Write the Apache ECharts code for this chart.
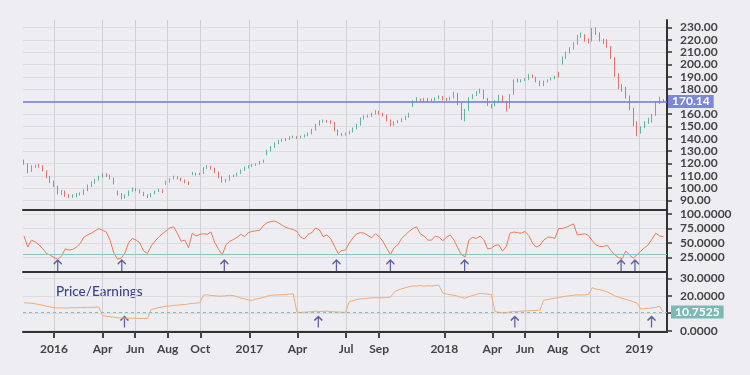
<!DOCTYPE html>
<html>
<head>
<meta charset="utf-8">
<script src="https://cdn.jsdelivr.net/npm/echarts@6/dist/echarts.min.js"></script>
<style>html,body{margin:0;padding:0;background:#eeeef2;}#c{width:750px;height:375px;}</style>
</head>
<body>
<div id="c"></div>
<script>
// ---- data (weekly samples) ----
const firstWeek = '2015-11-06';   // first weekly sample, then one every 7 days
const candles = [ // [open, close, low, high]
[122,120,119,123],[119,113,112,120],[114,117.5,113,118.5],[117,118,116.5,119],[118.5,118,116.5,119.5],
[118,114.5,113.5,118.5],[114,109,108,114.5],[109.5,105,104,110],[105,102,101,106],[101,96.5,95,102],
[96,97,94.5,98.5],[97.5,94,93,98],[94,93.5,92,95],[93,93.5,92,95],[93.5,95,92.5,96],
[95.5,95,94,96.5],[95,98,94.5,99],[98,102,97.5,103],[102,104.5,101,105.5],[104.5,106.5,103.5,107.5],
[106.5,109,106,110],[109,111,108.5,112],[111,110,109,112],[110,108,107,111],[108,104,103,108.5],
[97,95,94,98],[95,92.5,91,96],[92.5,94,91.5,95],[94,97.5,93.5,98],[97.5,99.5,97,100.5],
[99.5,98.5,97.5,100],[98.5,96.5,95.5,99],[96.5,94.5,93.5,97],[94.5,93,92,95],[93,95.5,92.5,96],
[95.5,97.5,95,98],[97.5,98.5,97,99.5],[98.5,97,96,99],[103,105,102.5,106],[105,107.5,104.5,108],
[107.5,109,107,110],[109,108,107,109.5],[108,106.5,105.5,108.5],[106.5,105,104,107],[105,103.5,102.5,105.5],
[111,112,110.5,113],[112,111,110,112.5],[111,111.5,110.5,112.5],[112,116,111.5,117],[116,117.5,115.5,118.5],
[117.5,116,115,118],[116,113,112,116.5],[113,109,108,113.5],[109,105.5,104.5,109.5],[105.5,106.5,104.5,107.5],
[106.5,109.5,106,110.5],[109.5,110,109,111],[110,112,109.5,112.5],[112,114.5,111.5,115],[114.5,116.7,114,117.5],
[116.7,117.5,116,118.5],[117.5,118.5,117,119.5],[118.5,119.5,118,120],[119.5,121,119,122],[121,122,120.5,123],
[127,130,126.5,131],[130,133,129.5,134],[133,136,132.5,137],[136,138,135.5,139],[138,139,137.5,140],
[139,139.5,138,140.5],[139.5,141,139,142],[141,141.5,140.5,142.5],[141.5,141,140,142],[141,141.5,140.5,142.5],
[141.5,142.5,141,143.5],[142.5,144,142,145],[144,147,143.5,148],[147,151,146.5,152],[151,154,150.5,155],
[154,154.3,153,155.5],[154.3,154,153,155],[154,153,152,155],[153,147,146,153.5],[147,143.5,142.5,147.5],
[143.5,143.3,142,144.5],[143.3,144,142.5,145],[144,145.8,143.5,146.5],[145.8,148,145,149],[148,151,147.5,152],
[151,156,150.5,157],[156,158,155.5,159],[158,158.3,157,159.5],[158.3,160,157.5,161],[160,162,159.5,163],
[162,160.5,159.5,162.5],[160.5,159,158,161],[159,155,154,159.5],[155,151,150,155.5],[151,153,150.5,154],
[153,154,152.5,155],[154,155.5,153.5,156.5],[155.5,157.5,155,158.5],[157.5,160,157,161],[166,170,165.5,171],
[170,172,169.5,173.5],[172,170.3,169.5,172.5],[170.3,172,169.5,173],[172,171,170,173],[171,171.5,170,172.5],
[171.5,172.6,170.5,173.5],[172.6,173.8,172,175],[173.8,172,171,174.5],[172,171.5,170.5,173],[171.5,173,171,174],
[173,176.5,172.5,178],[176.5,168.4,167,177],[168.4,159,155,169],[159,163,154,164],[163,172.5,162.5,173.5],
[172.5,175,172,176],[175,177.5,174.5,178.5],[177.5,179,176.5,180.5],[179,172.5,172,179.5],[172.5,167.5,166.5,173],
[167.5,166.5,164.5,168],[166.5,170,166,171],[170,174.5,169.5,175.5],[174.5,170,169,175],[170,163.5,162,170.5],
[165,175,164.5,176],[176,187,175.5,188],[187,186.5,185.5,188.5],[186.5,187,185.5,188],[187,188,186.5,189],
[188,191.5,187.5,192.5],[191.5,189.8,189,192],[189.8,186.5,185.5,190],[186.5,183.2,182.5,187],[183.2,186,182.5,187],
[186,187.4,185.5,188],[187.4,188.5,187,189.5],[188.5,190,188,191],[193.5,190.5,189.5,194],[201,205,200,206.5],
[205,209.5,204.5,210.5],[209.5,212.5,209,214],[212.5,216.5,212,218],[216.5,222.5,216,224],[222.5,224,221.5,226],
[224,219.5,218.5,224.5],[219.5,219,217,221],[219,227,218.5,229.5],[227,225.5,224,230],[225.5,219.5,218.5,226],
[219.5,218,216.5,221],[218,214.5,213.5,220.5],[214.5,205.5,204.5,215],[205.5,192,190,206],[192,182,180,193],
[182,179.5,178,184],[179.5,174,172.5,182],[174,164.5,163,175],[164.5,152,150,165],[152,145,142,154],
[145,149,144,150],[149,153,148.5,154],[153,156,152,157],[156,159,153,160],[159,169,158.5,170],
[169,171,168,174],[171,170.14,169.5,172]
];
const rsi = [
62,43,55,52,47,40,32,29,25,22,
27,40,38,39,43,49,60,64,67,71,
75,72,69,55,33,22,24,33,51,58,
55,50,36,32,45,53,60,66,71,76,
78,67,53,55,42,67,62,65,66,65,
69,51,40,29,47,53,56,60,65,61,
68,70,71,72,80,85,87,88,85,81,
77,75,73,70,60,57,65,68,76,73,
61,64,58,45,32,37,38,50,59,66,
68,67,63,59,66,61,53,41,30,42,
47,58,64,70,75,78,66,62,55,55,
62,60,54,60,64,55,42,30,26,55,
60,58,62,56,40,41,46,47,36,44,
67,69,68,67,70,63,50,43,46,55,
60,60,58,75,75,77,80,83,64,65,
66,63,54,47,44,44,46,37,30,25,
23,36,29,24,30,36,42,47,57,67,
62,61
];
const pe = [
16.0,15.8,15.7,15.4,15.0,14.6,14.0,13.6,13.2,13.0,
13.1,13.0,13.0,13.2,13.1,13.3,13.2,13.4,13.3,13.5,
13.6,8.6,8.3,8.0,7.7,7.4,7.3,7.2,7.2,7.1,
7.1,7.0,7.0,7.0,12.2,12.6,13.2,13.6,14.0,14.2,
14.5,14.6,14.9,15.0,15.3,15.6,15.8,16.0,20.4,20.5,
20.2,20.0,19.8,19.8,20.0,20.3,20.1,19.4,18.7,18.3,
17.6,17.4,18.2,18.5,19.0,19.8,20.2,20.4,20.5,20.6,
20.8,20.9,21.1,10.6,10.5,10.6,10.8,10.9,11.2,11.0,
11.1,11.2,11.0,10.8,10.7,10.6,10.5,16.6,17.2,17.8,
18.2,18.3,18.6,18.8,18.9,18.8,18.9,19.0,19.2,22.0,
23.2,24.0,24.6,25.2,25.6,25.6,25.8,25.5,25.7,25.6,
25.9,26.0,21.6,21.0,20.6,20.3,19.8,19.0,18.6,19.5,
20.2,20.8,21.3,21.2,21.0,20.6,10.9,10.6,10.2,10.3,
10.8,10.9,11.0,11.2,11.3,11.4,11.5,11.6,11.8,17.5,
17.8,18.2,18.6,19.0,19.4,19.8,20.0,20.3,20.5,20.4,
20.6,20.7,24.6,23.8,23.5,23.0,22.2,21.2,20.0,19.2,
18.5,17.9,17.3,16.6,15.8,12.4,12.6,12.8,13.0,13.4,
14.0,10.7525
];
const rsiThreshold = 30;
const rsiArrowDates = ['2016-01-08','2016-05-07','2016-11-15','2017-06-13','2017-09-22','2018-02-08','2018-11-28','2018-12-24'];
const peArrowDates = ['2016-05-12','2017-05-10','2018-05-13','2019-01-24'];
const xTickDates = ['2016-01-01','2016-04-01','2016-06-01','2016-08-01','2016-10-01','2017-01-01','2017-04-01','2017-07-01','2017-09-01','2018-01-01','2018-04-01','2018-06-01','2018-08-01','2018-10-01','2019-01-01'];
const xTickLabels = ['2016','Apr','Jun','Aug','Oct','2017','Apr','Jul','Sep','2018','Apr','Jun','Aug','Oct','2019'];
const priceTicks = [90,100,110,120,130,140,150,160,170,180,190,200,210,220,230];
const priceLabels = [90,100,110,120,130,140,150,160,180,190,200,210,220,230];
const rsiTicks = [25,50,75,100];
const peTicks = [0,10,20,30];
const peLabels = [0,20,30];
const xStart = '2015-11-04', xEnd = '2019-02-22';

// ---- helpers ----
function dayOf(s){const p=s.split('-').map(Number);return (Date.UTC(p[0],p[1]-1,p[2])-Date.UTC(2016,0,1))/86400000;}
const d0 = dayOf(firstWeek);
const days = candles.map((c,i)=>d0+7*i);
const candleData = candles.map((c,i)=>[days[i]].concat(c));
const rsiData = rsi.map((v,i)=>[days[i],v]);
const peData = pe.map((v,i)=>[days[i],v]);
const lastPrice = candles[candles.length-1][1];
const lastPe = pe[pe.length-1];
const xTickDays = xTickDates.map(dayOf);
const labelMap = {}; xTickDays.forEach((d,i)=>labelMap[d]=xTickLabels[i]);
const FONT = 'Lato';
const RSI_ARROW_Y = 11, PE_ARROW_Y = 5;
const arrowPath = 'path://M0,4 L4,0 L8,4 M4,0 L4,11';

const chart = echarts.init(document.getElementById('c'), null, {renderer:'canvas'});
const grids = [
  {left:23,right:83,top:20,height:190},
  {left:23,right:83,top:210,height:62},
  {left:23,right:83,top:272,height:60}
];
const xAxes = [0,1,2].map(i=>({
  type:'value', gridIndex:i, min:dayOf(xStart), max:dayOf(xEnd),
  axisLine:{show:true,onZero:false,lineStyle:{color:'#333',width:2}},
  axisTick:{show:i===2,customValues:xTickDays,length:6,lineStyle:{color:'#444',width:2}},
  axisLabel:{show:i===2,customValues:xTickDays,formatter:v=>labelMap[Math.round(v)]||'',margin:11,color:'#444',fontSize:12,fontFamily:FONT,fontWeight:'bold'},
  splitLine:{show:true,lineStyle:{color:'#cfcfd7',width:1}}
}));
const yCommon = {type:'value',position:'right',
  axisLine:{show:true,onZero:false,lineStyle:{color:'#333',width:2}},
  axisLabel:{margin:13,color:'#444',fontSize:12,fontFamily:FONT,fontWeight:'bold'}};
const yAxes = [
  Object.assign({},yCommon,{gridIndex:0,min:82.3,max:236,
    axisTick:{show:true,customValues:priceTicks,length:5,lineStyle:{color:'#333',width:1.5}},
    axisLabel:Object.assign({},yCommon.axisLabel,{customValues:priceLabels,formatter:v=>v.toFixed(2)}),
    splitLine:{show:true,lineStyle:{color:'#dcdce2'}}}),
  Object.assign({},yCommon,{gridIndex:1,min:0,max:107,
    axisTick:{show:true,customValues:rsiTicks,length:5,lineStyle:{color:'#333',width:1.5}},
    axisLabel:Object.assign({},yCommon.axisLabel,{customValues:rsiTicks,formatter:v=>v.toFixed(4)}),
    splitLine:{show:true,lineStyle:{color:'#dcdce2'}}}),
  Object.assign({},yCommon,{gridIndex:2,min:-0.74,max:33.6,
    axisTick:{show:true,customValues:peTicks,length:5,lineStyle:{color:'#333',width:1.5}},
    axisLabel:Object.assign({},yCommon.axisLabel,{customValues:peLabels,formatter:v=>v.toFixed(4)}),
    splitLine:{show:true,lineStyle:{color:'#dcdce2'}}})
];
const option = {
  backgroundColor:'#eeeef2',
  animation:false,
  grid:grids, xAxis:xAxes, yAxis:yAxes,
  graphic:[{type:'text',left:56,top:285,style:{text:'Price/Earnings',fill:'#3b3f8f',font:'500 13.5px Lato'}}],
  series:[
    {type:'candlestick',xAxisIndex:0,yAxisIndex:0,data:candleData,encode:{x:0,y:[1,2,3,4]},barWidth:1.2,
      itemStyle:{color:'#4cb08e',color0:'#e3625f',borderColor:'#4cb08e',borderColor0:'#e3625f',borderWidth:0.9}},
    {type:'line',xAxisIndex:0,yAxisIndex:0,data:[],color:'#6d7dd8',
      markLine:{silent:true,symbol:['none','none'],
        data:[{yAxis:lastPrice,lineStyle:{color:'#6d7dd8',width:1.5,type:'solid'}}],
        lineStyle:{color:'#6d7dd8',type:'solid',width:1.5},
        label:{show:true,position:'end',distance:1,formatter:lastPrice.toFixed(2),color:'#fff',backgroundColor:'#7b87d9',padding:[1,4,0,4],fontSize:12,fontFamily:FONT,fontWeight:'bold'}}},
    {type:'line',xAxisIndex:1,yAxisIndex:1,data:rsiData,showSymbol:false,lineStyle:{color:'#ee7a55',width:1},
      markLine:{silent:true,symbol:['none','none'],data:[{yAxis:rsiThreshold}],lineStyle:{color:'#8cc4c2',type:'solid',width:1},label:{show:false}}},
    {type:'line',xAxisIndex:2,yAxisIndex:2,data:peData,showSymbol:false,lineStyle:{color:'#f5ab70',width:1},
      markLine:{silent:true,symbol:['none','none'],data:[{yAxis:lastPe}],lineStyle:{color:'#7fc2ba',type:[3,3],width:1},
        label:{show:true,position:'end',distance:4,formatter:lastPe.toFixed(4),color:'#fff',backgroundColor:'#7ab9b6',padding:[1,4,0,4],fontSize:12,fontFamily:FONT,fontWeight:'bold'}}},
    {type:'scatter',xAxisIndex:1,yAxisIndex:1,data:rsiArrowDates.map(s=>[dayOf(s),RSI_ARROW_Y]),symbol:arrowPath,symbolSize:[8,11],
      itemStyle:{color:'none',borderColor:'#3c3f90',borderWidth:1.5}},
    {type:'scatter',xAxisIndex:2,yAxisIndex:2,data:peArrowDates.map(s=>[dayOf(s),PE_ARROW_Y]),symbol:arrowPath,symbolSize:[8,11],
      itemStyle:{color:'none',borderColor:'#3c3f90',borderWidth:1.5}}
  ]
};
chart.setOption(option);
</script>
</body>
</html>
